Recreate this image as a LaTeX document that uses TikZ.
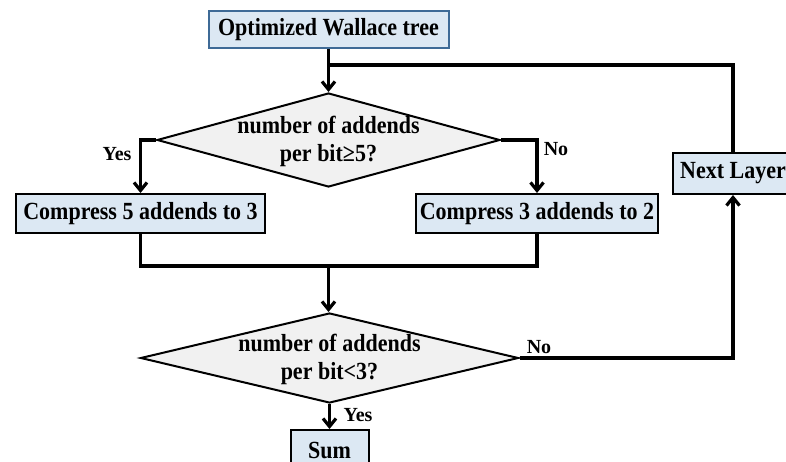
\documentclass[tikz,border=0pt]{standalone}
\usepackage{fontspec}
\setmainfont{Liberation Serif}
\usetikzlibrary{shapes.geometric,arrows.meta}
\definecolor{boxfill}{RGB}{220,232,243}
\definecolor{boxedge}{RGB}{62,106,150}
\definecolor{diafill}{RGB}{241,241,241}
% slightly tall lettering
\newcommand{\tallbold}[1]{\scalebox{1}[1.12]{#1}}
\tikzset{
  pbox/.style={draw=black, line width=2pt, fill=boxfill, inner sep=0pt,
    font=\fontsize{22}{25}\selectfont\bfseries},
  dia/.style={diamond, draw=black, line width=2pt, fill=diafill, inner sep=0pt},
  dtext/.style={inner sep=0pt, font=\fontsize{22}{25}\selectfont\bfseries},
  lbl/.style={inner sep=0pt, font=\fontsize{20}{22}\selectfont\bfseries},
  conn/.style={line width=3.2pt},
  arr/.style={conn, -{Straight Barb[length=8pt,width=13pt]}},
}
\begin{document}
\begin{tikzpicture}[x=1pt,y=-1pt]
\useasboundingbox (0,0) rectangle (786,462);
\clip (0,0) rectangle (786,462);
\fill[white] (0,0) rectangle (786,462);

% process boxes
\node[pbox, draw=boxedge, minimum width=240, minimum height=37] (top) at (328.5,29.5) {\tallbold{Optimized Wallace tree}};
\node[pbox, minimum width=249, minimum height=39] (c5) at (140.5,213.5) {\tallbold{Compress 5 addends to 3}};
\node[pbox, minimum width=242, minimum height=39] (c3) at (537,213.5) {\tallbold{Compress 3 addends to 2}};
\node[pbox, minimum width=120, minimum height=41] (nl) at (733,173.5) {\tallbold{Next Layer}};
\node[pbox, minimum width=78, minimum height=40] (sum) at (329.5,450) {\tallbold{Sum}};

% decisions
\node[dia, minimum width=343, minimum height=94] (d1) at (328.5,140) {};
\node[dtext] at (328.5,142) {\tallbold{\begin{tabular}{@{}c@{}}number of addends\\per bit≥5?\end{tabular}}};
\node[dia, minimum width=378, minimum height=90] (d2) at (329.5,358) {};
\node[dtext] at (329.5,360) {\tallbold{\begin{tabular}{@{}c@{}}number of addends\\per bit<3?\end{tabular}}};

% junction points
\coordinate (j1) at (328.5,65);
\coordinate (j2) at (328.5,266);

% connectors
\draw[arr] (top.south) -- (d1.north);
\draw[conn] (nl.north) |- (j1);
\draw[arr] (d1.west) -| (c5.north);
\draw[arr] (d1.east) -| (c3.north);
\draw[conn] (c5.south) |- (j2);
\draw[conn] (c3.south) |- (j2);
\draw[arr] (j2) -- (j2 |- d2.north);
\draw[arr] (d2.east) -| (nl.south);
\draw[arr] (d2.south) -- (sum.north);

% branch labels
\node[lbl] (y1) at (117,154) {Yes};
\node[lbl] (n1) at (556,149) {No};
\node[lbl] (n2) at (539,347) {No};
\node[lbl] (y2) at (358,415) {Yes};
\end{tikzpicture}
\end{document}
